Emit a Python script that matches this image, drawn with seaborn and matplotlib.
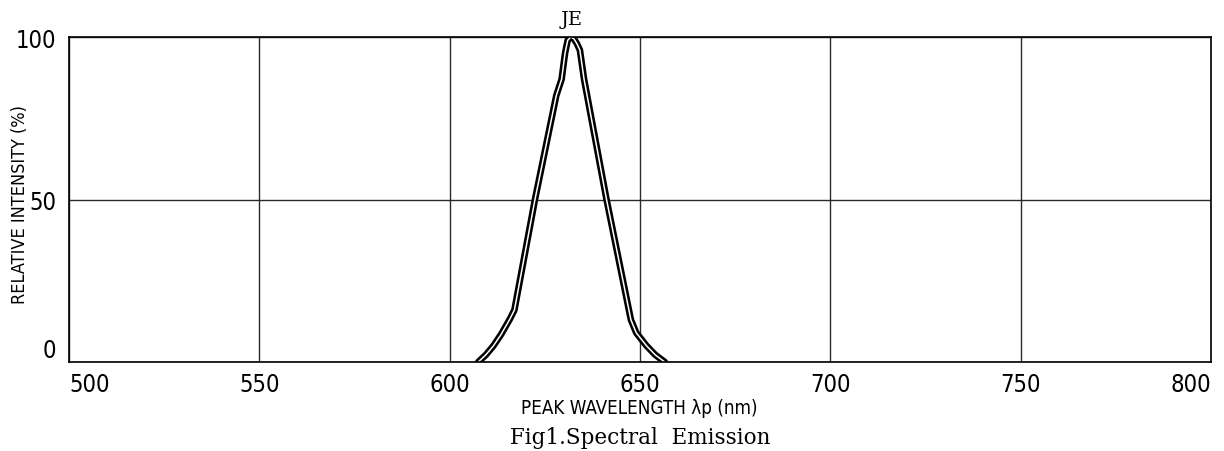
import numpy as np
import pandas as pd
import seaborn as sns
import matplotlib.pyplot as plt
import matplotlib.patheffects as pe

# spectrum
wavelength = [607.5, 609.5, 611.5, 613.5, 615.8, 617.0, 622.4, 628.0, 629.4, 630.3,
              631.0, 631.8, 632.6, 633.4, 634.2, 635.3, 641.2, 647.6, 649.0, 651.7,
              654.0, 656.5]
intensity = [0.0, 2.2, 5.0, 8.5, 13.2, 16.0, 50.0, 82.0, 87.0, 95.0,
             99.0, 100.0, 99.5, 98.0, 96.0, 87.0, 50.0, 13.0, 9.0, 5.0,
             2.2, 0.0]
x_ticks = [500, 550, 600, 650, 700, 750, 800]
y_ticks = [0, 50, 100]

df = pd.DataFrame({'wl': wavelength, 'rel': intensity})

sns.set_style('white')
plt.rcParams['text.color'] = 'black'
plt.rcParams['axes.labelcolor'] = 'black'
plt.rcParams['xtick.color'] = 'black'
plt.rcParams['ytick.color'] = 'black'
narrow = dict(family='DejaVu Sans', fontstretch='condensed')
serif = ['DejaVu Serif']

fig = plt.figure(figsize=(12.24, 4.52), dpi=100)
ax = fig.add_axes([0.0564, 0.1969, 0.9330, 0.7190])

# double outline curve: thick black with a thin white core
sns.lineplot(data=df, x='wl', y='rel', ax=ax, color='white', linewidth=1.1,
             path_effects=[pe.Stroke(linewidth=4.8, foreground='black'),
                           pe.Normal()])

ax.set_xlim(500, 800)
ax.set_ylim(0, 100)
ax.set_xticks(x_ticks)
ax.set_yticks(y_ticks)
ax.set_xticklabels([str(v) for v in x_ticks], fontsize=17, **narrow)
ax.set_yticklabels([str(v) for v in y_ticks], fontsize=17, **narrow)
xl = ax.get_xticklabels()
xl[0].set_ha('left')
xl[-1].set_ha('right')
ax.get_yticklabels()[0].set_va('bottom')
ax.tick_params(axis='x', length=0, pad=7)
ax.tick_params(axis='y', length=0, pad=9)

ax.grid(True, color='#2a2a2a', linewidth=1.0)
for s in ax.spines.values():
    s.set_visible(True)
    s.set_color('black')
    s.set_linewidth(1.2)

ax.set_xlabel('PEAK WAVELENGTH λp (nm)', fontsize=13.5, **narrow)
ax.set_ylabel('RELATIVE INTENSITY (%)', fontsize=13, **narrow)
ax.xaxis.set_label_coords(0.4991, -0.1415)
ax.yaxis.set_label_coords(-0.043, 0.486)
ax.xaxis.label.set_va('center')
ax.yaxis.label.set_va('center')

ax.text(632, 105.5, 'JE', ha='center', va='center', family=serif, fontsize=14)
fig.text(0.523, 0.031, 'Fig1.Spectral  Emission', ha='center', va='center',
         family=serif, fontsize=15.5)

fig.savefig('out.png', dpi=100)
